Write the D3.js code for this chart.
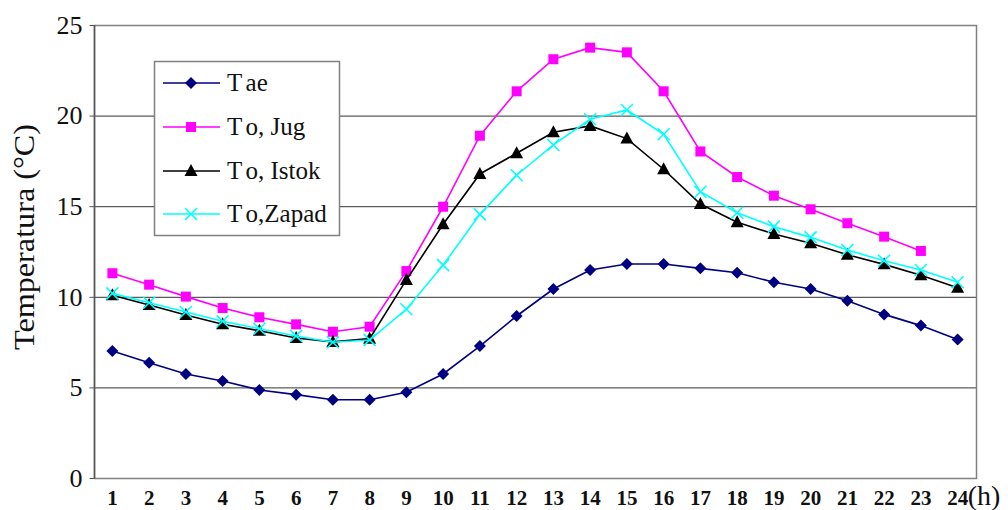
<!DOCTYPE html>
<html>
<head>
<meta charset="utf-8">
<script src="https://cdn.jsdelivr.net/npm/d3@7"></script>
<style>
  body { margin: 0; background: #fff; }
  svg text { font-family: "Liberation Serif", "Times New Roman", Times, "DejaVu Serif", serif; }
</style>
</head>
<body>
<div id="chart"></div>
<script>
// hours on the x axis
var hours = d3.range(1, 25);
var yTicks = [0, 5, 10, 15, 20, 25];

// series values (°C)
var tae = [7.01, 6.36, 5.74, 5.35, 4.86, 4.60, 4.32, 4.32, 4.73, 5.74, 7.28, 8.94,
           10.43, 11.48, 11.81, 11.81, 11.57, 11.33, 10.80, 10.43, 9.78, 9.03, 8.41, 7.65];
var jug = [11.30, 10.67, 10.01, 9.38, 8.87, 8.48, 8.07, 8.35, 11.42, 14.97, 18.89, 21.34,
           23.11, 23.75, 23.49, 21.34, 18.02, 16.61, 15.58, 14.83, 14.06, 13.32, 12.53, null];
var istok = [10.08, 9.55, 9.00, 8.48, 8.13, 7.73, 7.51, 7.69, 10.93, 14.00, 16.78, 17.92,
             19.08, 19.43, 18.73, 17.04, 15.12, 14.11, 13.47, 12.95, 12.32, 11.79, 11.19, 10.50];
var zapad = [10.19, 9.67, 9.16, 8.65, 8.24, 7.84, 7.49, 7.62, 9.31, 11.75, 14.55, 16.71,
             18.38, 19.80, 20.31, 18.97, 15.80, 14.64, 13.87, 13.28, 12.58, 11.99, 11.48, 10.80];

var seriesNames = ["Tae", "To, Jug", "To, Istok", "To,Zapad"];
var seriesColors = ["#000080", "#ff00ff", "#000000", "#00ffff"];
var seriesShapes = ["diamond", "square", "triangle", "cross"];
var seriesValues = [tae, jug, istok, zapad];

var width = 1008, height = 510;
var margin = {top: 25, right: 32, bottom: 32, left: 94};
var serif = "'Liberation Serif', 'Times New Roman', Times, 'DejaVu Serif', serif";

var svg = d3.select("#chart").append("svg")
    .attr("width", width)
    .attr("height", height)
    .style("font-family", serif);

var x = d3.scaleBand()
    .domain(hours)
    .range([margin.left, width - margin.right]);
var y = d3.scaleLinear()
    .domain([0, 25])
    .range([height - margin.bottom, margin.top]);

var cx = function(h) { return x(h) + x.bandwidth() / 2; };

// grid lines
svg.append("g").selectAll("line")
    .data(yTicks.filter(function(d) { return d > 0 && d < 25; }))
  .enter().append("line")
    .attr("x1", margin.left).attr("x2", width - margin.right)
    .attr("y1", function(d) { return y(d) + 0.5; })
    .attr("y2", function(d) { return y(d) + 0.5; })
    .attr("stroke", "#333")
    .attr("stroke-width", 1);

// plot frame
svg.append("rect")
    .attr("x", margin.left + 0.5).attr("y", margin.top + 0.5)
    .attr("width", width - margin.left - margin.right)
    .attr("height", y(0) - margin.top)
    .attr("fill", "none")
    .attr("stroke", "#808080")
    .attr("stroke-width", 1.5);
svg.append("line")
    .attr("x1", margin.left + 0.5).attr("x2", margin.left + 0.5)
    .attr("y1", margin.top).attr("y2", y(0) + 1)
    .attr("stroke", "#555").attr("stroke-width", 1.5);

// y axis
var yAxis = svg.append("g")
    .attr("transform", "translate(" + (margin.left + 0.5) + ",0)")
    .call(d3.axisLeft(y).tickValues(yTicks).tickSize(5).tickPadding(7));
yAxis.attr("font-family", null);
yAxis.select(".domain").remove();
yAxis.selectAll("line").attr("stroke", "#555");
yAxis.selectAll("text")
    .attr("font-size", "26px")
    .attr("fill", "#111");

// x axis labels
var xAxis = svg.append("g")
    .attr("transform", "translate(0," + y(0) + ")")
    .call(d3.axisBottom(x).tickSize(0).tickPadding(12));
xAxis.attr("font-family", null);
xAxis.select(".domain").remove();
xAxis.selectAll("text")
    .attr("font-size", "21px")
    .attr("font-weight", "bold")
    .attr("fill", "#111");

svg.append("text")
    .attr("x", x(24) + x.bandwidth() / 2 + 10)
    .attr("y", 505)
    .attr("font-size", "28px")
    .attr("fill", "#111")
    .text("(h)");

// y axis title
svg.append("text")
    .attr("transform", "translate(34," + 237 + ") rotate(-90)")
    .attr("text-anchor", "middle")
    .attr("font-size", "29px")
    .attr("textLength", 226)
    .attr("lengthAdjust", "spacingAndGlyphs")
    .attr("fill", "#111")
    .text("Temperatura (°C)");

// marker shapes
function marker(sel, shape, color) {
  if (shape == "diamond") {
    sel.append("path").attr("d", "M0,-6L6,0L0,6L-6,0Z").attr("fill", color);
  } else if (shape == "square") {
    sel.append("rect").attr("x", -5).attr("y", -5).attr("width", 10).attr("height", 10).attr("fill", color);
  } else if (shape == "triangle") {
    sel.append("path").attr("d", "M0,-7L6.5,5L-6.5,5Z").attr("fill", color);
  } else {
    sel.append("path").attr("d", "M-6,-6L6,6M-6,6L6,-6")
        .attr("stroke", color).attr("stroke-width", 1.6).attr("fill", "none");
  }
}

var line = d3.line()
    .defined(function(d) { return d.v != null; })
    .x(function(d) { return cx(d.h); })
    .y(function(d) { return y(d.v); });

seriesValues.forEach(function(vals, i) {
  var pts = hours.map(function(h, j) { return {h: h, v: vals[j]}; });
  var g = svg.append("g").attr("class", "series");
  g.append("path")
      .datum(pts)
      .attr("d", line)
      .attr("fill", "none")
      .attr("stroke", seriesColors[i])
      .attr("stroke-width", 1.6);
  g.selectAll(".pt")
      .data(pts.filter(function(d) { return d.v != null; }))
    .enter().append("g")
      .attr("class", "pt")
      .attr("transform", function(d) { return "translate(" + cx(d.h) + "," + y(d.v) + ")"; })
      .each(function() { marker(d3.select(this), seriesShapes[i], seriesColors[i]); });
});

// legend
var legend = svg.append("g").attr("transform", "translate(154,61)");
legend.append("rect")
    .attr("x", 0.5).attr("y", 0.5)
    .attr("width", 185).attr("height", 174)
    .attr("fill", "#fff")
    .attr("stroke", "#808080")
    .attr("stroke-width", 1.5);
var rowY = [22, 66, 110, 153];
seriesNames.forEach(function(name, i) {
  var row = legend.append("g").attr("transform", "translate(0," + rowY[i] + ")");
  row.append("line")
      .attr("x1", 9).attr("x2", 66)
      .attr("stroke", seriesColors[i]).attr("stroke-width", 1.6);
  var m = row.append("g").attr("transform", "translate(37,0)");
  marker(m, seriesShapes[i], seriesColors[i]);
  var t = row.append("text")
      .attr("x", 73).attr("y", 8)
      .attr("font-size", "25px")
      .attr("fill", "#111");
  t.append("tspan").text(name.charAt(0));
  t.append("tspan").attr("dx", 5).text(name.slice(1));
});
</script>
</body>
</html>
